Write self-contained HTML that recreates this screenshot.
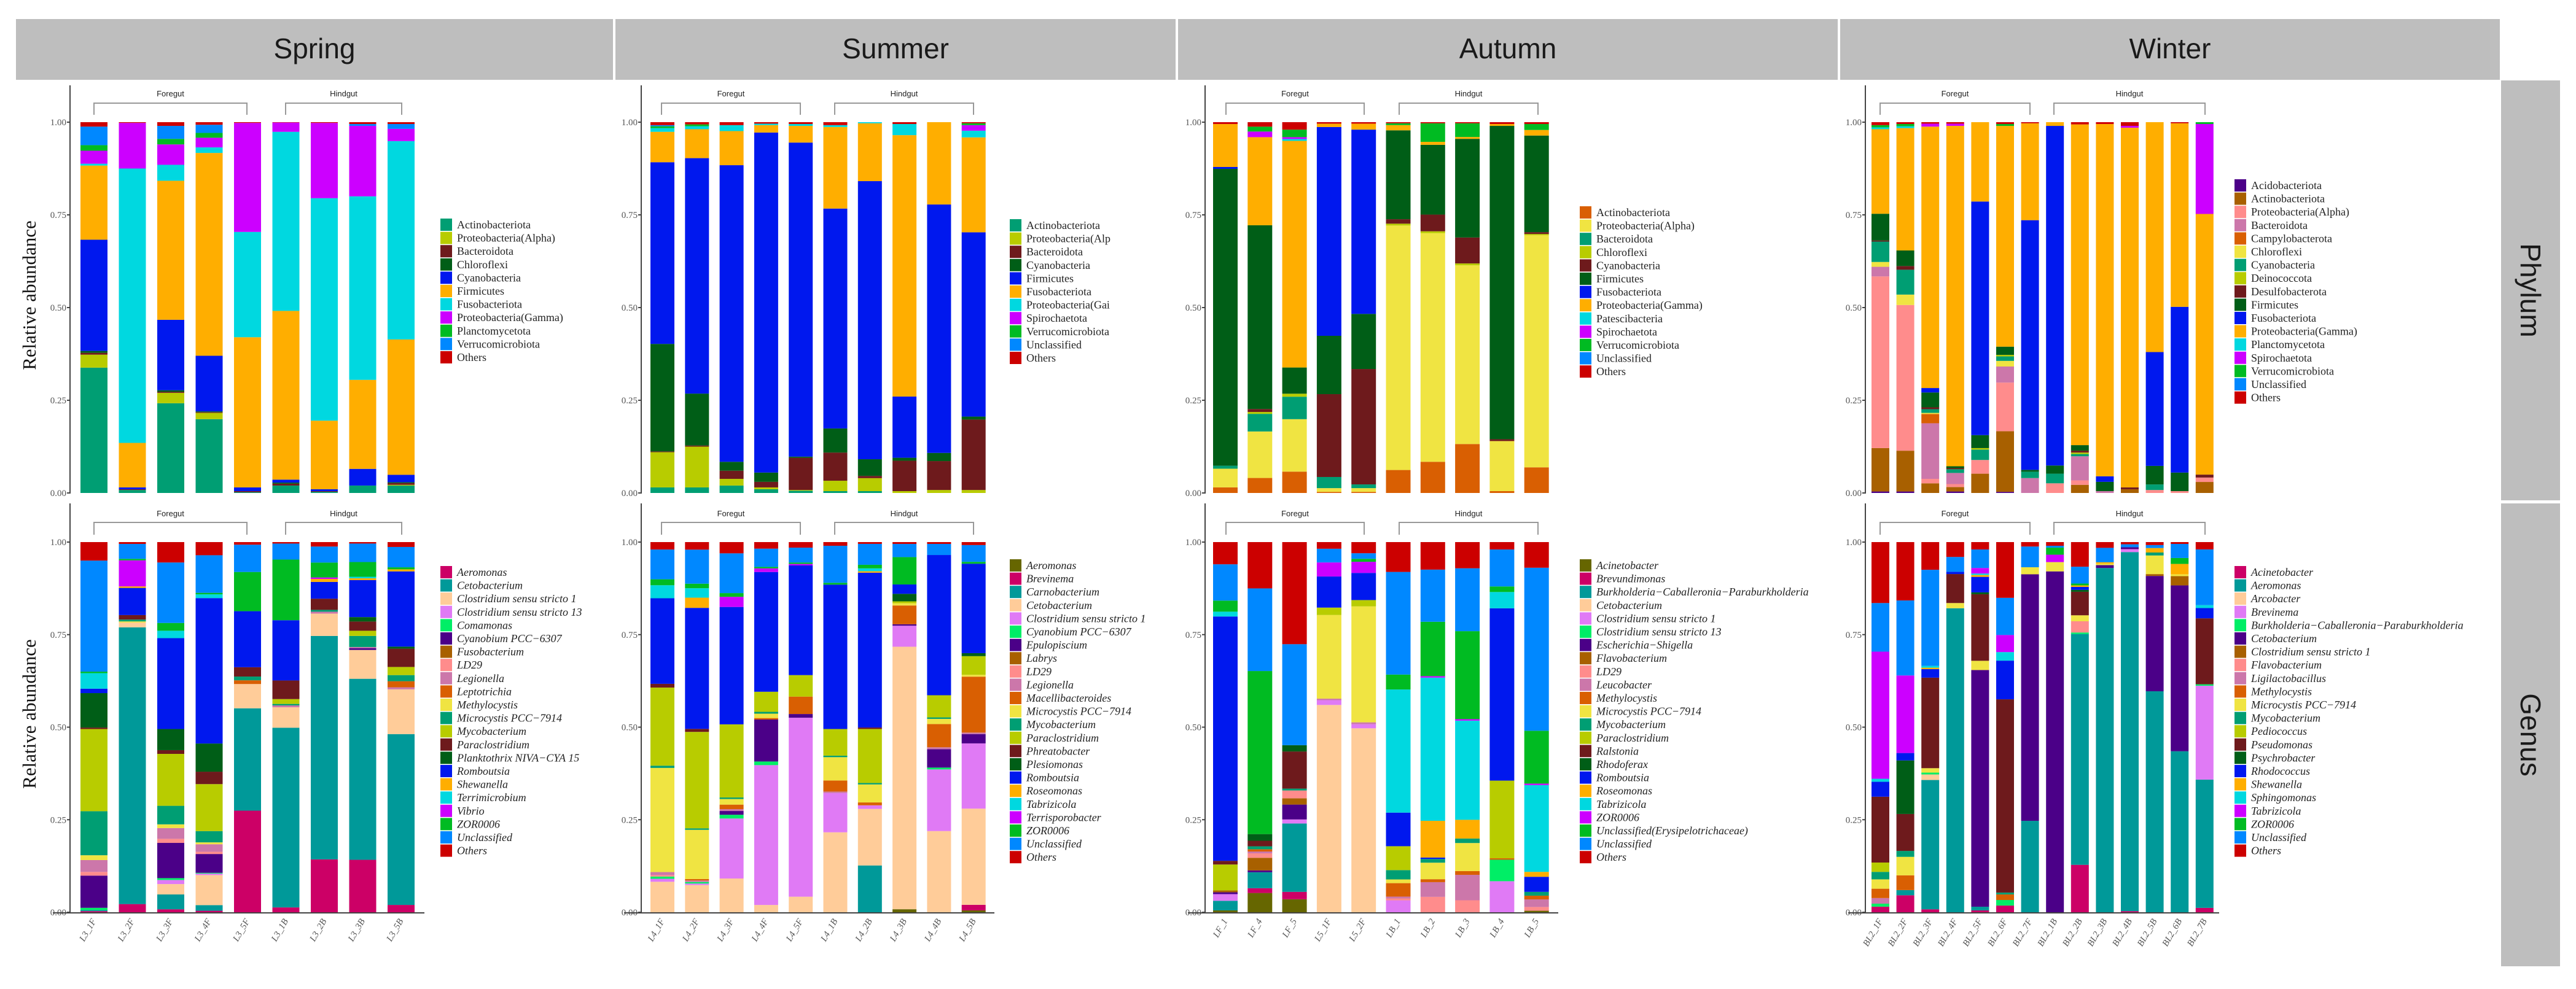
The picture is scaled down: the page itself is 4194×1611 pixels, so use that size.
<!DOCTYPE html>
<html><head><meta charset="utf-8"><style>
html,body{margin:0;padding:0;background:#fff;}
svg{display:block;}
</style></head><body>
<svg id="chart" width="4194" height="1611" xmlns="http://www.w3.org/2000/svg"></svg>
<script>
const C={tg:'#009E73',yg:'#B8CC00',dr:'#6E1A1C',dg:'#005E17',bl:'#0018EE',or:'#FFAE00',cy:'#00D8E0',mg:'#CC00FF',gr:'#00BB22',az:'#0088FF',rd:'#CC0000',ore:'#D95F02',ye:'#F0E442',ind:'#4B0088',br:'#A86000',sa:'#FF8C8C',ma:'#CC77AA',cr:'#CC0066',te:'#009999',pe:'#FFCC99',vi:'#E07AF5',bg:'#00EE66',ol:'#666600'};

// ---------- data ----------
const seasons=['Spring','Summer','Autumn','Winter'];

const springPhylumTaxa=['Actinobacteriota','Proteobacteria(Alpha)','Bacteroidota','Chloroflexi','Cyanobacteria','Firmicutes','Fusobacteriota','Proteobacteria(Gamma)','Planctomycetota','Verrucomicrobiota','Others'];
const springPhylumColors=['tg','yg','dr','dg','bl','or','cy','mg','gr','az','rd'];
const springPhylumValues=[
[.338,.035,.005,.005,.30,.20,.005,.035,.015,.05,.012],
[.008,0,.002,0,.005,.12,.74,.123,0,0,.002],
[.242,.028,.003,.004,.19,.375,.043,.055,.015,.035,.01],
[.199,.017,.002,.002,.15,.547,.015,.026,.013,.022,.007],
[.002,0,.003,0,.01,.405,.284,.294,0,0,.002],
[.02,0,.005,.003,.008,.455,.483,.025,0,0,.001],
[.003,0,.002,0,.005,.185,.60,.203,0,0,.002],
[.02,0,0,0,.045,.24,.495,.19,0,.005,.005],
[.02,.002,.005,.002,.02,.365,.535,.033,0,.013,.005]];

const summerPhylumTaxa=['Actinobacteriota','Proteobacteria(Alp','Bacteroidota','Cyanobacteria','Firmicutes','Fusobacteriota','Proteobacteria(Gai','Spirochaetota','Verrucomicrobiota','Unclassified','Others'];
const summerPhylumColors=['tg','yg','dr','dg','bl','or','cy','mg','gr','az','rd'];
const summerPhylumValues=[
[.015,.095,.002,.29,.49,.082,.01,0,.005,.003,.008],
[.015,.11,.003,.14,.635,.078,.008,0,.005,0,.006],
[.02,.018,.022,.024,.80,.092,.016,0,0,0,.008],
[.01,.005,.015,.025,.917,.02,.004,0,0,0,.004],
[.006,.002,.087,.003,.847,.045,.005,0,0,0,.005],
[.005,.028,.076,.065,.593,.22,.005,0,0,0,.008],
[.005,.035,.006,.045,.75,.156,.003,0,0,0,0],
[0,.005,.082,.008,.165,.705,.03,0,0,0,.005],
[0,.008,.078,.022,.67,.222,0,0,0,0,0],
[0,.008,.19,.008,.497,.256,.018,.015,.005,0,.003]];

const autumnPhylumTaxa=['Actinobacteriota','Proteobacteria(Alpha)','Bacteroidota','Chloroflexi','Cyanobacteria','Firmicutes','Fusobacteriota','Proteobacteria(Gamma)','Patescibacteria','Spirochaetota','Verrucomicrobiota','Unclassified','Others'];
const autumnPhylumColors=['ore','ye','tg','yg','dr','dg','bl','or','cy','mg','gr','az','rd'];
const autumnPhylumValues=[
[.015,.05,.008,0,0,.795,.005,.115,0,0,0,0,.005],
[.04,.124,.047,.005,.008,.49,0,.235,0,.015,.013,0,.012],
[.057,.14,.06,.008,0,.07,0,.605,.005,.005,.02,0,.02],
[.003,.01,.03,0,.223,.157,.562,.009,0,0,0,0,.004],
[.003,.01,.01,0,.31,.148,.495,.016,0,0,0,0,.004],
[.062,.66,0,.005,.012,.24,0,.014,0,0,.005,0,.003],
[.084,.616,0,.005,.045,.188,0,.008,0,0,.05,0,.003],
[.132,.482,0,.005,.07,.266,0,.005,0,0,.037,0,.003],
[.005,.135,0,0,.005,.845,0,.005,0,0,0,0,.005],
[.069,.625,0,.003,.005,.26,0,.015,0,0,.016,0,.005]];

const winterPhylumTaxa=['Acidobacteriota','Actinobacteriota','Proteobacteria(Alpha)','Bacteroidota','Campylobacterota','Chloroflexi','Cyanobacteria','Deinococcota','Desulfobacterota','Firmicutes','Fusobacteriota','Proteobacteria(Gamma)','Planctomycetota','Spirochaetota','Verrucomicrobiota','Unclassified','Others'];
const winterPhylumColors=['ind','br','sa','ma','ore','ye','tg','yg','dr','dg','bl','or','cy','mg','gr','az','rd'];
const winterPhylumValues=[
[.004,.117,.463,.026,0,.013,.055,0,.003,.072,0,.228,.005,0,.006,0,.008],
[.004,.11,.393,0,0,.028,.067,0,.01,.042,0,.33,.005,0,.006,0,.005],
[0,.026,.012,.15,.025,.003,.01,0,.005,.04,.012,.705,0,.008,0,0,.004],
[.004,.012,.008,.03,0,0,.01,0,.003,.005,0,.918,0,.006,0,0,.004],
[0,.052,.037,0,0,0,.028,.004,0,.035,.63,.214,0,0,0,0,0],
[.003,.162,.13,.043,0,.015,.012,.004,0,.022,0,.59,0,0,.005,0,.005],
[0,0,0,.04,0,0,.017,0,0,.005,.67,.26,0,0,0,0,.003],
[0,0,.026,0,0,0,.026,0,0,.022,.915,.01,0,0,0,0,0],
[0,.022,.012,.065,0,0,.006,.004,.005,.015,0,.865,0,0,0,0,.006],
[0,0,0,.005,0,0,0,0,0,.025,.015,.95,0,0,0,0,.005],
[0,.01,0,0,0,0,0,0,.005,0,0,.97,0,.005,0,0,.01],
[0,0,.008,0,0,0,.015,0,0,.05,.307,.62,0,0,0,0,0],
[0,0,.005,0,0,0,0,0,0,.05,.447,.495,0,0,0,0,.003],
[0,.03,.012,0,0,0,0,0,.008,0,0,.71,0,.245,.005,0,0]];

const springGenusTaxa=['Aeromonas','Cetobacterium','Clostridium sensu stricto 1','Clostridium sensu stricto 13','Comamonas','Cyanobium PCC\u22126307','Fusobacterium','LD29','Legionella','Leptotrichia','Methylocystis','Microcystis PCC\u22127914','Mycobacterium','Paraclostridium','Planktothrix NIVA\u2212CYA 15','Romboutsia','Shewanella','Terrimicrobium','Vibrio','ZOR0006','Unclassified','Others'];
const springGenusColors=['cr','te','pe','vi','bg','ind','br','sa','ma','ore','ye','tg','yg','dr','dg','bl','or','cy','mg','gr','az','rd'];
const springGenusValues=[
[.003,.003,0,0,.006,.087,0,.01,.032,0,.013,.119,.222,.004,.093,.012,0,.042,0,.004,.30,.05],
[.022,.743,.013,0,0,0,0,0,0,0,.003,.005,0,.012,0,.073,.004,0,.07,.004,.04,.005],
[.008,.04,.028,.011,.005,.095,0,.011,.029,0,.01,.05,.14,.01,.057,.245,0,.02,0,.021,.163,.055],
[.004,.015,.08,.004,.002,.05,0,.006,.02,0,.005,.03,.125,.033,.075,.387,0,.01,0,.004,.10,.035],
[.272,.274,.065,0,0,0,0,0,0,.01,0,.01,0,.025,0,.15,0,0,0,.105,.073,.007],
[.013,.483,.055,0,0,0,0,0,.005,0,0,.004,.013,.05,0,.162,0,0,0,.163,.043,.004],
[.142,.60,.06,0,0,0,0,0,.005,0,0,.005,0,.03,0,.045,.008,0,.004,.04,.043,.012],
[.142,.49,.078,0,0,.005,0,0,.003,0,0,.03,.014,.025,.012,.10,.005,.004,0,.04,.05,.004],
[.018,.42,.11,0,0,0,0,0,.005,.015,0,.015,.02,.045,.005,.185,.005,0,0,.005,.05,.012]];

const summerGenusTaxa=['Aeromonas','Brevinema','Carnobacterium','Cetobacterium','Clostridium sensu stricto 1','Cyanobium PCC\u22126307','Epulopiscium','Labrys','LD29','Legionella','Macellibacteroides','Microcystis PCC\u22127914','Mycobacterium','Paraclostridium','Phreatobacter','Plesiomonas','Romboutsia','Roseomonas','Tabrizicola','Terrisporobacter','ZOR0006','Unclassified','Others'];
const summerGenusColors=['ol','cr','te','pe','vi','bg','ind','br','sa','ma','ore','ye','tg','yg','dr','dg','bl','or','cy','mg','gr','az','rd'];
const summerGenusValues=[
[0,0,0,.082,.008,.006,0,0,.004,.008,0,.28,.006,.21,.01,0,.23,0,.035,0,.016,.08,.02],
[0,0,0,.072,.004,.004,0,0,0,.004,.004,.13,.004,.255,.008,0,.32,.027,.025,0,.012,.09,.02],
[0,0,0,.09,.16,.01,.01,0,0,.005,.012,.015,.004,.195,0,0,.313,0,0,.027,.01,.106,.03],
[0,0,0,.02,.383,.01,.115,0,0,0,.004,.012,.005,.055,0,0,.328,0,0,.01,.004,.05,.018],
[0,0,0,.042,.483,0,.01,0,0,0,.047,0,0,.058,0,0,.296,0,0,.004,.004,.04,.015],
[0,0,0,.216,.106,0,0,0,0,.004,.03,.063,.004,.072,0,0,.39,0,0,0,.005,.10,.01],
[0,0,.13,.157,.01,0,0,0,0,0,.008,.05,.004,.15,.004,0,.43,.004,.008,0,.01,.058,.005],
[.008,0,0,.70,.056,0,.004,0,0,0,.05,.006,0,.005,0,.02,.025,0,0,0,.073,.035,.005],
[0,0,0,.22,.167,.005,.05,0,0,.005,.063,.014,.004,.06,0,0,.38,0,0,0,0,.03,.005],
[.005,.015,0,.258,.175,0,.025,0,0,.004,.15,.005,0,.05,0,.008,.24,0,0,0,.005,.045,.008]];

const autumnGenusTaxa=['Acinetobacter','Brevundimonas','Burkholderia\u2212Caballeronia\u2212Paraburkholderia','Cetobacterium','Clostridium sensu stricto 1','Clostridium sensu stricto 13','Escherichia\u2212Shigella','Flavobacterium','LD29','Leucobacter','Methylocystis','Microcystis PCC\u22127914','Mycobacterium','Paraclostridium','Ralstonia','Rhodoferax','Romboutsia','Roseomonas','Tabrizicola','ZOR0006','Unclassified(Erysipelotrichaceae)','Unclassified','Others'];
const autumnGenusColors=['ol','cr','te','pe','vi','bg','ind','br','sa','ma','ore','ye','tg','yg','dr','dg','bl','or','cy','mg','gr','az','rd'];
const autumnGenusValues=[
[.005,0,.026,0,.018,0,.005,.005,0,0,0,0,0,.07,.01,0,.66,0,.013,0,.03,.098,.06],
[.052,.013,.043,0,0,0,.005,.034,.012,.005,.006,0,.008,0,.015,.018,0,0,0,0,.44,.223,.125],
[.035,.02,.184,0,.011,0,.04,.017,.021,0,0,0,.005,0,.10,.017,0,0,0,0,0,.272,.275],
[0,0,0,.56,.013,0,0,0,0,.004,0,.226,0,.02,0,0,.084,0,0,.038,0,.037,.018],
[0,0,0,.495,.011,0,0,0,0,.005,0,.312,0,.017,0,0,.073,0,0,.03,.008,.015,.03],
[0,0,0,0,.032,0,0,0,.005,.005,.036,.01,.025,.064,0,0,.09,0,.33,0,.04,.275,.08],
[0,0,0,0,0,0,0,0,.042,.04,.008,.045,.01,0,0,0,.004,.10,.39,.004,.148,.142,.075],
[0,0,0,0,0,0,0,0,.032,.068,.01,.075,.012,0,0,0,0,.05,.265,.004,.235,.168,.07],
[0,0,0,0,.084,.058,0,0,0,0,.004,0,0,.21,0,0,.466,0,.044,0,.015,.10,.02],
[.004,0,0,0,0,0,0,0,.01,.02,.01,0,.01,0,0,0,.04,.013,.23,.004,.14,.432,.068]];

const winterGenusTaxa=['Acinetobacter','Aeromonas','Arcobacter','Brevinema','Burkholderia\u2212Caballeronia\u2212Paraburkholderia','Cetobacterium','Clostridium sensu stricto 1','Flavobacterium','Ligilactobacillus','Methylocystis','Microcystis PCC\u22127914','Mycobacterium','Pediococcus','Pseudomonas','Psychrobacter','Rhodococcus','Shewanella','Sphingomonas','Tabrizicola','ZOR0006','Unclassified','Others'];
const winterGenusColors=['cr','te','pe','vi','bg','ind','br','sa','ma','ore','ye','tg','yg','dr','dg','bl','or','cy','mg','gr','az','rd'];
const winterGenusValues=[
[.015,0,0,0,.008,0,0,0,.015,.025,.025,.02,.025,.176,0,.04,0,.008,.34,0,.13,.163],
[.046,.014,0,0,0,0,0,0,0,.04,.05,.016,0,.10,.145,.02,0,0,.21,0,.203,.158],
[.008,.35,.015,0,.005,0,0,0,0,0,.012,0,0,.245,0,.023,.004,.005,0,0,.26,.075],
[0,.818,0,0,0,0,0,0,0,0,.014,0,0,.078,0,.006,0,0,0,0,.04,.04],
[.005,.01,0,0,0,.64,0,0,0,0,.025,0,0,.18,.005,.042,.005,.004,.015,0,.05,.02],
[.018,0,0,0,.015,0,0,0,0,.015,0,.005,0,.52,0,.104,0,.023,.046,0,.10,.15],
[0,.247,0,0,0,.666,0,0,0,0,.019,0,0,0,0,0,0,0,0,0,.056,.012],
[0,0,0,0,0,.919,0,0,0,0,.025,0,0,0,0,0,0,0,.02,.019,.005,.01],
[.127,.618,0,0,.004,0,0,.03,0,0,.016,0,0,.063,.005,.008,.004,0,0,.005,.045,.066],
[0,.956,0,0,0,.008,0,0,0,0,.004,0,0,0,0,0,.004,0,0,0,.04,.016],
[.003,.97,0,.008,0,.005,0,0,0,0,0,0,0,0,0,0,0,0,0,0,.008,.006],
[0,.594,0,0,0,.31,.005,0,0,0,.05,.008,0,0,0,0,.012,0,0,0,.008,.008],
[0,.435,0,0,0,.448,.025,0,0,0,.005,0,0,0,0,0,.028,0,0,.016,.038,.005],
[.012,.35,0,.256,.004,0,0,0,0,0,0,0,0,.18,0,.028,0,.008,0,0,.152,.02]];

const springSamples=['L3_1F','L3_2F','L3_3F','L3_4F','L3_5F','L3_1B','L3_2B','L3_3B','L3_5B'];
const summerSamples=['L4_1F','L4_2F','L4_3F','L4_4F','L4_5F','L4_1B','L4_2B','L4_3B','L4_4B','L4_5B'];
const autumnSamples=['LF_1','LF_4','LF_5','L5_1F','L5_2F','LB_1','LB_2','LB_3','LB_4','LB_5'];
const winterSamples=['BL2_1F','BL2_2F','BL2_3F','BL2_4F','BL2_5F','BL2_6F','BL2_7F','BL2_1B','BL2_2B','BL2_3B','BL2_4B','BL2_5B','BL2_6B','BL2_7B'];
const tickLabels=['0.00','0.25','0.50','0.75','1.00'];
const tickValues=[0,0.25,0.5,0.75,1];

// ---------- layout ----------
const NS='http://www.w3.org/2000/svg';
const svg=document.getElementById('chart');
function mk(tag,attrs,parent){const e=document.createElementNS(NS,tag);for(const k in attrs)e.setAttribute(k,attrs[k]);(parent||svg).appendChild(e);return e;}

const panels=[
 {key:'spring',axis:114,bar0:131,bw:44,pitch:62.5,leg:717,fg:[153,402],hg:[465,654],samples:springSamples,end:691},
 {key:'summer',axis:1044,bar0:1059,bw:39,pitch:56.3,leg:1644,fg:[1077,1303],hg:[1359,1585],samples:summerSamples,end:1619},
 {key:'autumn',axis:1962,bar0:1975,bw:40,pitch:56.3,leg:2572,fg:[1996,2221],hg:[2278,2504],samples:autumnSamples,end:2537},
 {key:'winter',axis:3037,bar0:3047,bw:29,pitch:40.6,leg:3638,fg:[3061,3305],hg:[3344,3590],samples:winterSamples,end:3613}];
const rows=[
 {key:'phylum',y0:803,y1:199,axTop:139,br:[157,168,187],legY:{spring:366,summer:367,autumn:346,winter:302},italic:false,
  taxa:[springPhylumTaxa,summerPhylumTaxa,autumnPhylumTaxa,winterPhylumTaxa],cols:[springPhylumColors,summerPhylumColors,autumnPhylumColors,winterPhylumColors],vals:[springPhylumValues,summerPhylumValues,autumnPhylumValues,winterPhylumValues]},
 {key:'genus',y0:1486,y1:883,axTop:820,br:[841,851,871],legY:{spring:932,summer:921,autumn:921,winter:932},italic:true,
  taxa:[springGenusTaxa,summerGenusTaxa,autumnGenusTaxa,winterGenusTaxa],cols:[springGenusColors,summerGenusColors,autumnGenusColors,winterGenusColors],vals:[springGenusValues,summerGenusValues,autumnGenusValues,winterGenusValues]}];

// headers
const hdr=[[26,998],[1002,1914],[1918,2992],[2996,4070]];
hdr.forEach((h,i)=>{
 const g=mk('g',{});
 
 
 mk('rect',{x:h[0],y:31,width:h[1]-h[0],height:99,fill:'#BEBEBE'},g);
 const t=mk('text',{x:(h[0]+h[1])/2,y:95,'text-anchor':'middle','font-family':'Liberation Sans, sans-serif','font-size':46,fill:'#1a1a1a'},g);
 t.textContent=seasons[i];
});
[['Phylum',131,815],['Genus',820,1574]].forEach(s=>{
 const g=mk('g',{});
 
 
 mk('rect',{x:4072,y:s[1],width:96,height:s[2]-s[1],fill:'#BEBEBE'},g);
 const cy=(s[1]+s[2])/2;
 const t=mk('text',{x:4120,y:cy,'text-anchor':'middle','dominant-baseline':'central','font-family':'Liberation Sans, sans-serif','font-size':46,fill:'#1a1a1a',transform:`rotate(90 4120 ${cy})`},g);
 t.textContent=s[0];
});

rows.forEach(row=>{
 const yS=v=>row.y0-(row.y0-row.y1)*v;
 panels.forEach((p,pi)=>{
  const g=mk('g',{});
  
  
  // axis
  const ax=mk('line',{x1:p.axis,x2:p.axis,y1:row.axTop,y2:row.y0+1,stroke:'#444','stroke-width':2},g);
  
  
  tickValues.forEach((tv,ti)=>{
   const y=yS(tv);
   mk('line',{x1:p.axis-5,x2:p.axis,y1:y,y2:y,stroke:'#444','stroke-width':2},g);
   const t=mk('text',{x:p.axis-6,y:y+5,'text-anchor':'end','font-family':'Liberation Serif, serif','font-size':15,fill:'#555'},g);
   
   
   t.textContent=tickLabels[ti];
  });
  if(pi===0){
   const cy=(row.y0+row.axTop)/2+10;
   const t=mk('text',{x:58,y:cy,'text-anchor':'middle','font-family':'Liberation Serif, serif','font-size':31,fill:'#111',transform:`rotate(-90 58 ${cy})`},g);
   
   
   t.textContent='Relative abundance';
  }
  // brackets
  [['Foregut',p.fg],['Hindgut',p.hg]].forEach(b=>{
   const bg=mk('g',{},g);
   
   
   mk('path',{d:`M${b[1][0]},${row.br[2]} V${row.br[1]} H${b[1][1]} V${row.br[2]}`,fill:'none',stroke:'#999','stroke-width':2},bg);
   const t=mk('text',{x:(b[1][0]+b[1][1])/2,y:row.br[0],'text-anchor':'middle','font-family':'Liberation Sans, sans-serif','font-size':13,fill:'#222'},bg);
   t.textContent=b[0];
  });
  // bars
  const vals=row.vals[pi],cols=row.cols[pi],taxa=row.taxa[pi];
  vals.forEach((sv,si)=>{
   const tot=sv.reduce((a,b)=>a+b,0);
   const x=p.bar0+si*p.pitch;
   let acc=0;
   sv.forEach((v,ti)=>{
    if(v<=0)return;
    const ya=yS(acc/tot),yb=yS((acc+v)/tot);acc+=v;
    const r=mk('rect',{x:x,y:yb,width:p.bw,height:Math.max(0,ya-yb),fill:C[cols[ti]]},g);
    
    
   });
   if(row.key==='genus'){
    const cx=x+p.bw/2,ty=row.y0+14;
    const t=mk('text',{x:cx+4,y:ty,'text-anchor':'end','font-family':'Liberation Serif, serif','font-size':15,'font-style':'italic',fill:'#555',transform:`rotate(-60 ${cx+4} ${ty})`},g);
    
    
    t.textContent=p.samples[si];
   }
  });
  if(row.key==='genus'){
   const xl=mk('line',{x1:p.axis-28,x2:p.end,y1:row.y0+1,y2:row.y0+1,stroke:'#444','stroke-width':2},g);
   
   
  }
  // legend
  const lg=mk('g',{},g);
  
  
  taxa.forEach((name,ti)=>{
   const cy=row.legY[p.key]+ti*21.6;
   const e=mk('g',{},lg);
   
   
   mk('rect',{x:p.leg,y:cy-10,width:19,height:20,fill:C[cols[ti]]},e);
   const t=mk('text',{x:p.leg+27,y:cy+6,'font-family':'Liberation Serif, serif','font-size':18,fill:'#222','font-style':row.italic&&name!=='Unclassified'&&name!=='Others'?'italic':'normal'},e);
   if(row.italic)t.setAttribute('font-style','italic');
   t.textContent=name;
  });
 });
});
</script>
</body></html>
